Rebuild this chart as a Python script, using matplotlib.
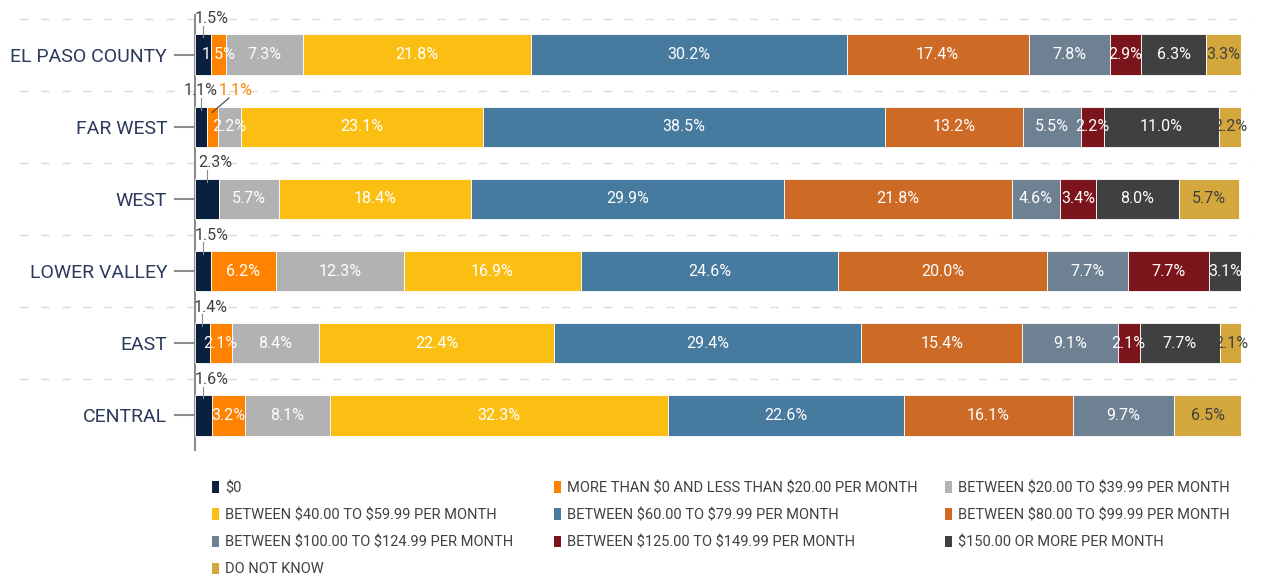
import matplotlib
matplotlib.use("Agg")
import matplotlib.pyplot as plt
from matplotlib.patches import Patch
import numpy as np

plt.rcParams['font.family'] = ['Roboto', 'DejaVu Sans']
plt.rcParams['text.parse_math'] = False

regions = ["EL PASO COUNTY", "FAR WEST", "WEST", "LOWER VALLEY", "EAST", "CENTRAL"]
categories = ["$0", "MORE THAN $0 AND LESS THAN $20.00 PER MONTH",
              "BETWEEN $20.00 TO $39.99 PER MONTH", "BETWEEN $40.00 TO $59.99 PER MONTH",
              "BETWEEN $60.00 TO $79.99 PER MONTH", "BETWEEN $80.00 TO $99.99 PER MONTH",
              "BETWEEN $100.00 TO $124.99 PER MONTH", "BETWEEN $125.00 TO $149.99 PER MONTH",
              "$150.00 OR MORE PER MONTH", "DO NOT KNOW"]
colors = ["#0b1f3f", "#ff8200", "#b1b2b1", "#fbbf14", "#467a9e",
          "#cc6a26", "#6e8193", "#7c141c", "#404040", "#d4a73d"]

# values per region, one list per category order above
el_paso = [1.5, 1.5, 7.3, 21.8, 30.2, 17.4, 7.8, 2.9, 6.3, 3.3]
far_west = [1.1, 1.1, 2.2, 23.1, 38.5, 13.2, 5.5, 2.2, 11.0, 2.2]
west = [2.3, 0.0, 5.7, 18.4, 29.9, 21.8, 4.6, 3.4, 8.0, 5.7]
lower_valley = [1.5, 6.2, 12.3, 16.9, 24.6, 20.0, 7.7, 7.7, 3.1, 0.0]
east = [1.4, 2.1, 8.4, 22.4, 29.4, 15.4, 9.1, 2.1, 7.7, 2.1]
central = [1.6, 3.2, 8.1, 32.3, 22.6, 16.1, 9.7, 0.0, 0.0, 6.5]

M = np.array([el_paso, far_west, west, lower_valley, east, central])

fig = plt.figure(figsize=(12.67, 5.77), dpi=100)
ax = fig.add_axes([195 / 1267, 1 - 450 / 577, 1046 / 1267, 435 / 577])

y = np.arange(len(regions))
left = np.zeros(len(regions))
h = 0.56
for j, cat in enumerate(categories):
    vals = M[:, j]
    ax.barh(y, vals, left=left, height=h, color=colors[j],
            edgecolor="white", linewidth=0.6, label=cat, zorder=3)
    for i, v in enumerate(vals):
        if v <= 0:
            continue
        cx = left[i] + v / 2
        if j == 0:
            # $0 label sits above the bar with a short leader
            tx = cx + (0.0 if i == 1 else 0.8)
            ax.text(tx, i - h / 2 - 0.22, f"{v:.1f}%", ha="center", va="center",
                    fontsize=11.5, color="#404040", zorder=5)
            ax.plot([cx, cx], [i - h / 2 - 0.12, i - h / 2 + 0.04],
                    color="#8c8c8c", lw=0.8, zorder=5)
        elif j == 1 and i == 1:
            ax.text(cx + 2.2, i - h / 2 - 0.22, f"{v:.1f}%", ha="center", va="center",
                    fontsize=11.5, color="#ff8200", zorder=5)
            ax.plot([cx + 1.6, cx], [i - h / 2 - 0.12, i - h / 2 + 0.08],
                    color="#404040", lw=0.8, zorder=5)
        else:
            col = "#404040" if j == 9 else "white"
            ax.text(cx, i, f"{v:.1f}%", ha="center", va="center",
                    fontsize=11.5, color=col, zorder=5)
    left = left + vals

ax.set_xlim(0, 100)
ax.set_ylim(len(regions) - 0.52, -0.55)
ax.set_yticks(y)
ax.set_yticklabels(regions, fontsize=14, color="#2b3a5c")
ax.tick_params(axis="y", length=15, width=1.5, color="#8c8c8c", pad=5)
ax.set_xticks([])
for s in ["top", "right", "bottom"]:
    ax.spines[s].set_visible(False)
ax.spines["left"].set_color("#8c8c8c")
ax.spines["left"].set_linewidth(1.5)

# dashed separators between rows, running under the labels too
for yy in np.arange(-0.5, len(regions) - 1, 1.0):
    ax.plot([-0.167, 1.009], [yy, yy], transform=ax.get_yaxis_transform(),
            color="#dcdcdc", lw=1, ls=(0, (6, 9)), clip_on=False, zorder=1)

# legend: three columns placed at the reference positions
columns = [[0, 3, 6, 9], [1, 4, 7], [2, 5, 8]]
col_x = [212, 554, 945]
for xs, idx in zip(col_x, columns):
    fig.legend([Patch(facecolor=colors[k]) for k in idx],
               [categories[k] for k in idx], loc="upper left",
               bbox_to_anchor=(xs / 1267, 1 - 481 / 577), frameon=False,
               fontsize=10.5, labelcolor="#404040", handlelength=0.45,
               handleheight=0.8, handletextpad=0.45,
               labelspacing=0.9, borderaxespad=0, borderpad=0)

fig.savefig("out.png", dpi=100)
